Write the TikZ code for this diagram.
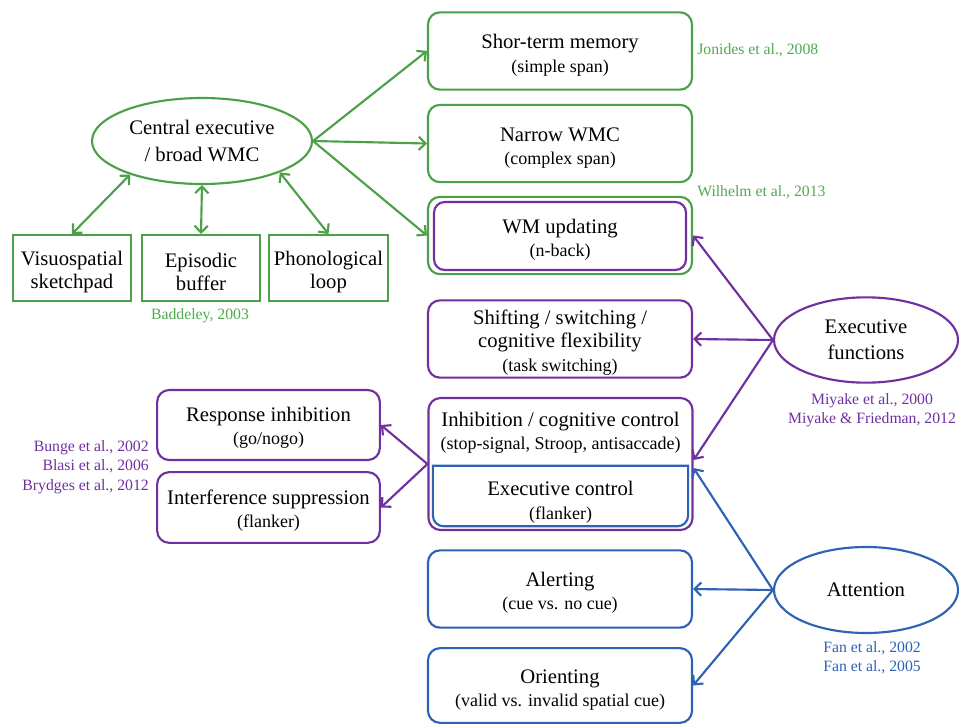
\documentclass[tikz,border=0pt]{standalone}
\usepackage{fontspec}
\setmainfont{Liberation Serif}
\usetikzlibrary{shapes.geometric,arrows.meta,calc}
\definecolor{cgreen}{RGB}{76,160,72}
\definecolor{cpurple}{RGB}{112,48,160}
\definecolor{cblue}{RGB}{46,98,180}
\definecolor{tgreen}{RGB}{80,170,80}
\newcommand\fmain{\fontsize{15.5}{17.5}\selectfont}
\newcommand\fsub{\fontsize{13.5}{16}\selectfont}
\newcommand\fcite{\fontsize{11.8}{14.5}\selectfont}
\newcommand\topstrut[1]{\rule{0pt}{#1}}
\begin{document}
\begin{tikzpicture}[x=0.75pt,y=-0.75pt,
  box/.style={draw, line width=1.6pt, rounded corners=9pt, minimum width=198pt, minimum height=58pt, align=center, inner sep=0pt, font=\fmain},
  sqbox/.style={draw, line width=1.6pt, minimum width=89pt, minimum height=49.5pt, align=center, inner sep=0pt, font=\fmain},
  ell/.style={draw, ellipse, line width=1.6pt, align=center, inner sep=0pt, font=\fmain},
  arr/.style={line width=1.6pt, -{Straight Barb[length=5pt,width=10pt]}},
  darr/.style={line width=1.6pt, {Straight Barb[length=5pt,width=10pt]}-{Straight Barb[length=5pt,width=10pt]}},
  cite/.style={font=\fcite, inner sep=0pt, align=center},
]
\fill[white] (0,0) rectangle (959,725);
\useasboundingbox (0,0) rectangle (959,725);

% right column boxes
\node[box, draw=cgreen] (stm) at (560,51) {\topstrut{17pt}Shor-term memory\\{\fsub (simple span)}};
\node[box, draw=cgreen] (nwmc) at (560,143.5) {\topstrut{17pt}Narrow WMC\\{\fsub (complex span)}};
\node[box, draw=cgreen] (wmu) at (560,235.5) {};
\node[box, draw=cpurple, minimum width=189pt, minimum height=51pt, rounded corners=8pt] (wmuin) at (560,236) {\topstrut{16pt}WM updating\\{\fsub (n-back)}};
\node[box, draw=cpurple] (shift) at (560,339) {\topstrut{16pt}Shifting / switching /\\cognitive flexibility\\{\fsub (task switching)}};
\node[box, draw=cpurple, minimum height=99pt] (inhib) at (560.5,464) {};
\node[font=\fmain, align=center, inner sep=0pt] (inhibtxt) at (560.5,433) {Inhibition / cognitive control\\{\fsub (stop-signal, Stroop, antisaccade)}};
\node[minimum width=191pt, minimum height=45pt, inner sep=0pt, align=center, font=\fmain] (exc) at (560.5,496) {\topstrut{20pt}Executive control\\{\fsub (flanker)}};
\draw[cblue, line width=1.6pt] (exc.north west) -- (exc.north east) -- ([yshift=8pt]exc.south east) arc[start angle=0,end angle=-90,radius=8pt] -- ([xshift=8pt]exc.south west) arc[start angle=270,end angle=180,radius=8pt] -- cycle;
\node[box, draw=cblue] (alert) at (560,589) {\topstrut{16pt}Alerting\\{\fsub (cue vs. no cue)}};
\node[box, draw=cblue, minimum height=56pt] (orient) at (560,685.5) {\topstrut{17pt}Orienting\\{\fsub (valid vs. invalid spatial cue)}};

% left inhibition boxes
\node[box, draw=cpurple, minimum width=167pt, minimum height=52.5pt] (resp) at (268.5,425) {\topstrut{15pt}Response inhibition\\{\fsub (go/nogo)}};
\node[box, draw=cpurple, minimum width=167pt, minimum height=53pt] (interf) at (268.5,507.5) {\topstrut{16pt}Interference suppression\\{\fsub (flanker)}};

% Baddeley model
\node[sqbox, draw=cgreen] (vis) at (72,268) {\topstrut{17pt}Visuospatial\\sketchpad};
\node[sqbox, draw=cgreen] (epi) at (201,268) {\topstrut{17pt}Episodic\\buffer};
\node[sqbox, draw=cgreen] (phon) at (328.5,268) {\topstrut{17pt}Phonological\\loop};
\node[ell, draw=cgreen, minimum width=165pt, minimum height=64.5pt] (ce) at (202,141) {Central executive\\[3pt]/ broad WMC};

% ellipses right
\node[ell, draw=cpurple, minimum width=138pt, minimum height=64pt] (ef) at (866,340) {Executive\\[2pt]functions};
\node[ell, draw=cblue, minimum width=138pt, minimum height=64.5pt] (att) at (866,590) {Attention};

% citations
\node[cite, text=tgreen, anchor=west] (c1) at (697,50) {Jonides et al., 2008};
\node[cite, text=tgreen, anchor=west] (c2) at (697,192) {Wilhelm et al., 2013};
\node[cite, text=tgreen] (c3) at (200,316) {Baddeley, 2003};
\node[cite, text=cpurple] (c4) at (872,410) {Miyake et al., 2000\\Miyake \& Friedman, 2012};
\node[cite, text=cblue] (c5) at (872,657.5) {Fan et al., 2002\\Fan et al., 2005};
\node[cite, text=cpurple, align=right, anchor=east] (c6) at (149,467) {Bunge et al., 2002\\Blasi et al., 2006\\Brydges et al., 2012};

% connectors
\draw[arr, cgreen] (ce.east) -- (stm.west);
\draw[arr, cgreen] (ce.east) -- (nwmc.west);
\draw[arr, cgreen] (ce.east) -- (wmu.west);
\draw[darr, cgreen] (ce.205) -- (vis.north);
\draw[darr, cgreen] (ce.south) -- (epi.north);
\draw[darr, cgreen] (ce.-22) -- (phon.north);
\draw[arr, cpurple] (ef.west) -- (wmu.east);
\draw[arr, cpurple] (ef.west) -- (shift.east);
\draw[arr, cpurple] (ef.west) -- ([yshift=3pt]inhib.east);
\draw[arr, cpurple] (inhib.west) -- (resp.east);
\draw[arr, cpurple] (inhib.west) -- (interf.east);
\draw[arr, cblue] (att.west) -- ([yshift=-3pt]inhib.east);
\draw[arr, cblue] (att.west) -- (alert.east);
\draw[arr, cblue] (att.west) -- (orient.east);
\end{tikzpicture}
\end{document}
